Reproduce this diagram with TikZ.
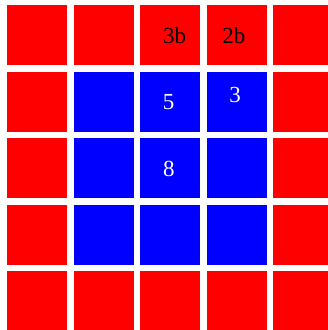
\documentclass[tikz,border=0pt]{standalone}
\usepackage{fontspec}
\setmainfont{Liberation Serif}
\definecolor{cellred}{HTML}{FF0000}
\definecolor{cellblue}{HTML}{0000FF}
\tikzset{
  cell/.style={draw=none, minimum size=60pt, inner sep=0pt, anchor=north west},
  redcell/.style={cell, fill=cellred},
  bluecell/.style={cell, fill=cellblue},
  lbl/.style={inner sep=0pt, anchor=base, font=\fontsize{23}{23}\selectfont},
  onred/.style={lbl, text=black},
  onblue/.style={lbl, text=white}
}
\begin{document}
\begin{tikzpicture}[x=1pt,y=-1pt]
\useasboundingbox (0,0) rectangle (328,330);
\clip (0,0) rectangle (328,330);
\fill[white] (0,0) rectangle (328,330);
\foreach \i in {1,...,5}{
  \foreach \j in {1,...,5}{
    \pgfmathtruncatemacro{\inner}{(\i>1)&&(\i<5)&&(\j>1)&&(\j<5)}
    \ifnum\inner=1
      \node[bluecell] (c-\j-\i) at ({7+66.5*(\i-1)},{5+66.5*(\j-1)}) {};
    \else
      \node[redcell] (c-\j-\i) at ({7+66.5*(\i-1)},{5+66.5*(\j-1)}) {};
    \fi
  }
}
\node[onred] (t3b) at (174.7,43.3) {3b};
\node[onred] (t2b) at (233.8,43.3) {2b};
\node[onblue] (t5) at (168.7,109.3) {5};
\node[onblue] (t3) at (235,102.7) {3};
\node[onblue] (t8) at (168.8,176.7) {8};
\end{tikzpicture}
\end{document}
